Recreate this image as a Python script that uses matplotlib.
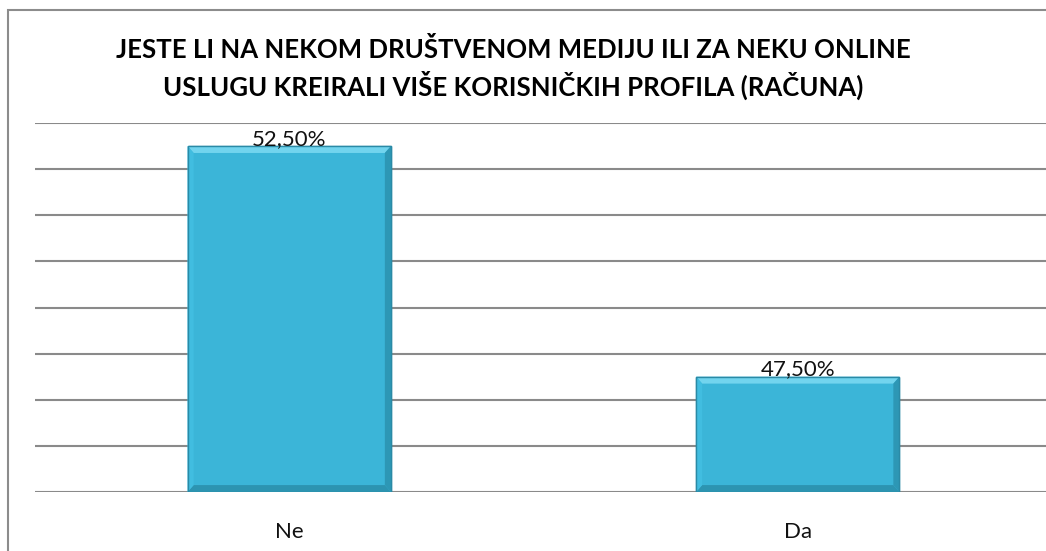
import matplotlib
matplotlib.use('Agg')
import matplotlib.pyplot as plt
from matplotlib.patches import Rectangle, Polygon

# podaci
kategorije = ['Ne', 'Da']
vrijednosti = [52.5, 47.5]
oznake = ['52,50%', '47,50%']
naslov = ('JESTE LI NA NEKOM DRUŠTVENOM MEDIJU ILI ZA NEKU ONLINE\n'
          'USLUGU KREIRALI VIŠE KORISNIČKIH PROFILA (RAČUNA)')
y_min, y_max = 45, 53

plt.rcParams['font.family'] = ['Lato', 'DejaVu Sans']

W, H = 1046, 551
fig = plt.figure(figsize=(W / 100, H / 100), dpi=100)

# okvir grafikona
fig.patches.append(Rectangle((8 / W, -0.1), 1.2, 1 - 10 / H + 0.1,
                             transform=fig.transFigure, fill=False,
                             edgecolor='#8c8c8c', lw=1.5))

ax = fig.add_axes([35 / W, (H - 492) / H, 1017 / W, 369 / H])
ax.set_ylim(y_min, y_max)
ax.set_xlim(-0.5, 1.5)
ax.set_yticks(range(y_min, y_max + 1))
ax.yaxis.grid(True, color='#8a8a8a', lw=1.5)
ax.set_axisbelow(True)
for s in ax.spines.values():
    s.set_visible(False)
ax.tick_params(axis='y', left=False, labelleft=False)
ax.tick_params(axis='x', bottom=False, labelsize=16, pad=18, labelcolor='#111111')
ax.set_xticks(range(len(kategorije)))
ax.set_xticklabels(kategorije)

visine = [v - y_min for v in vrijednosti]
bars = ax.bar(range(len(kategorije)), visine, width=0.4, bottom=y_min,
              color='#3bb5d8', edgecolor='#2a8aa6', lw=1, zorder=3)

# kosi rubovi stupaca
for b in bars:
    x0, y0 = b.get_x(), b.get_y()
    x1, y1 = x0 + b.get_width(), y0 + b.get_height()
    dx = b.get_width() * 0.03
    dy = 0.15
    ax.add_patch(Polygon([(x0, y1), (x1, y1), (x1 - dx, y1 - dy), (x0 + dx, y1 - dy)],
                         closed=True, color='#72d4ee', lw=0, zorder=4))
    ax.add_patch(Polygon([(x0, y0), (x1, y0), (x1 - dx, y0 + dy), (x0 + dx, y0 + dy)],
                         closed=True, color='#2c94b1', lw=0, zorder=4))
    ax.add_patch(Polygon([(x0, y0), (x0, y1), (x0 + dx, y1 - dy), (x0 + dx, y0 + dy)],
                         closed=True, color='#41bde0', lw=0, zorder=4))
    ax.add_patch(Polygon([(x1, y0), (x1, y1), (x1 - dx, y1 - dy), (x1 - dx, y0 + dy)],
                         closed=True, color='#2d97b5', lw=0, zorder=4))
    ax.add_patch(Rectangle((x0, y0), x1 - x0, y1 - y0, fill=False,
                           edgecolor='#2a8aa6', lw=1, zorder=5))

for b, t in zip(bars, oznake):
    ax.text(b.get_x() + b.get_width() / 2, b.get_y() + b.get_height() + 0.03, t,
            ha='center', va='baseline', fontsize=16, color='#111111', zorder=6)

fig.text(0.491, 1 - 68 / H, naslov, ha='center', va='center', fontsize=18.5,
         fontweight='bold', linespacing=1.35)

fig.savefig('out.png', dpi=100)
